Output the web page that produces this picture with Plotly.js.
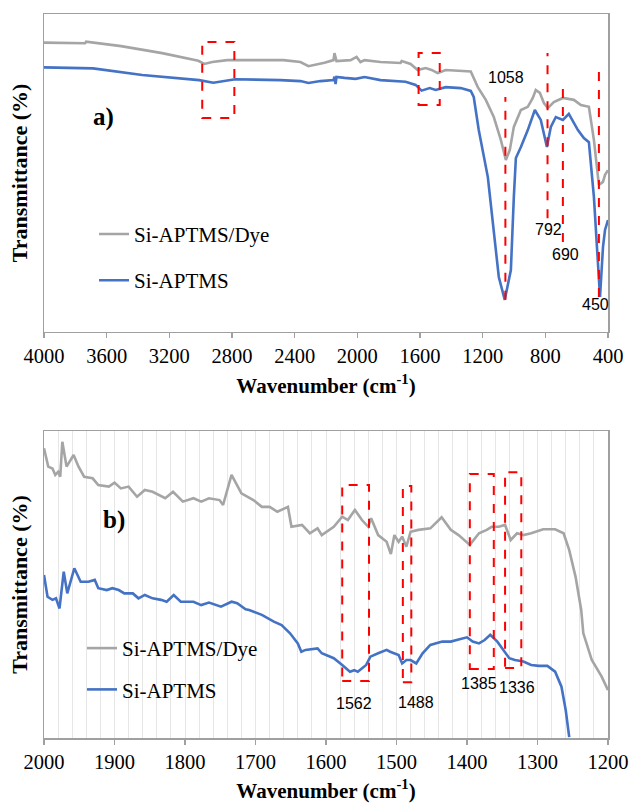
<!DOCTYPE html>
<html>
<head>
<meta charset="utf-8">
<script src="https://cdn.plot.ly/plotly-3.0.1.min.js"></script>
<style>html,body{margin:0;padding:0;background:#fff;}#chart{width:630px;height:803px;}</style>
</head>
<body>
<div id="chart"></div>
<script>
// ---------- Panel a: full range (4000-400 cm-1) ----------
const wnA_dye = [4000,3738,3731,3508,3246,3015,2977,2926,2830,2683,2472,2363,2312,2210,2152,2146,2133,2043,2005,1980,1954,1852,1724,1717,1660,1615,1564,1526,1487,1436,1340,1276,1231,1180,1129,1084,1052,1027,1001,956,912,880,861,835,809,784,746,688,618,573,522,490,458,432,419,400];
const tA_dye  = [91.0,90.8,91.3,89.9,87.7,85.3,84.3,84.9,85.5,85.5,85.5,84.9,83.6,84.7,85.5,87.7,85.2,85.5,86.5,84.9,85.5,84.9,84.6,85.2,84.3,82.4,83.0,82.4,81.4,82.4,82.1,81.9,77.0,73.0,67.6,60.4,54.1,57.2,64.5,69.8,70.8,73.6,76.1,75.2,72.0,70.4,72.3,73.6,73.0,71.4,70.8,60.4,46.2,47.2,49.4,50.9];
const wnA_si  = [4000,3687,3373,3010,2919,2779,2491,2363,2312,2235,2152,2146,2139,2133,2082,2011,1954,1852,1692,1628,1590,1538,1500,1436,1340,1276,1257,1225,1167,1129,1097,1059,1020,1001,988,956,912,867,829,790,765,733,688,650,592,554,522,490,464,451,432,419,400];
const tA_si   = [83.2,82.9,80.8,79.2,78.4,79.5,79.2,78.9,78.3,78.9,79.2,80.3,78.0,80.2,79.9,79.6,80.2,79.2,78.7,77.7,75.9,76.7,76.1,77.0,76.7,75.8,73.9,63.5,48.7,32.1,17.3,10.1,19.5,42.5,54.7,58.2,63.5,69.8,66.7,58.2,64.5,67.6,66.7,68.6,63.5,61.0,59.7,42.5,19.5,11.0,26.7,32.1,35.2];

// ---------- Panel b: zoom (2000-1200 cm-1) ----------
const wnB_dye = [2000,1994,1988,1984,1980,1977,1974,1968,1958,1951,1943,1931,1923,1908,1900,1891,1880,1868,1857,1846,1828,1817,1803,1788,1777,1766,1751,1746,1734,1720,1703,1691,1680,1669,1654,1649,1634,1623,1612,1606,1589,1577,1569,1559,1549,1540,1536,1526,1514,1508,1503,1497,1492,1486,1480,1469,1452,1436,1423,1412,1396,1383,1372,1365,1355,1346,1338,1329,1320,1309,1292,1275,1263,1255,1246,1238,1235,1223,1209,1200];
const tB_dye  = [94.4,88.4,87.8,85.7,86.7,85.1,96.5,88.4,92.2,88.4,85.1,84.6,82.4,81.9,83.2,81.3,81.9,78.6,80.8,80.2,78.1,80.2,77.0,78.1,77.0,78.1,77.5,75.9,85.7,79.7,77.5,75.3,75.3,73.7,75.3,68.8,69.4,66.7,68.3,66.1,68.8,72.1,71.0,74.3,71.0,68.8,71.6,66.1,63.9,59.9,66.1,63.9,65.6,62.3,67.2,67.8,68.3,71.9,67.8,66.1,62.9,66.7,67.8,68.8,68.8,69.4,64.5,66.7,66.1,66.7,68.0,68.0,66.7,61.2,52.5,41.7,34.1,25.4,20.0,15.6];
const wnB_si  = [2000,1995,1988,1983,1978,1972,1967,1957,1948,1937,1928,1923,1911,1903,1894,1886,1874,1866,1857,1846,1834,1826,1816,1806,1788,1777,1766,1749,1734,1726,1714,1709,1691,1674,1663,1651,1640,1635,1629,1612,1606,1589,1577,1566,1560,1555,1543,1537,1526,1514,1509,1497,1492,1486,1480,1472,1463,1452,1435,1423,1412,1400,1392,1383,1375,1367,1357,1349,1340,1332,1320,1309,1298,1286,1275,1266,1260,1255];
const tB_si   = [53.1,46.0,45.0,45.5,42.2,54.2,47.1,55.3,50.9,50.9,51.5,48.8,48.2,48.8,48.2,47.1,47.1,45.5,46.6,45.5,45.0,44.4,46.6,44.4,44.4,43.3,44.1,42.8,44.4,43.9,41.9,41.7,40.1,37.9,36.8,34.1,30.8,28.1,28.7,29.2,27.6,26.0,23.8,21.6,22.1,21.6,23.8,26.5,27.6,28.7,28.1,27.0,24.3,25.4,25.4,24.3,27.6,30.3,31.4,31.4,32.1,32.8,31.4,30.8,31.9,33.6,31.4,28.7,26.0,25.4,24.9,23.8,23.5,23.5,21.6,16.7,9.1,0.3];

const seriesNames = ["Si-APTMS/Dye", "Si-APTMS"];
const seriesColors = ["#A5A5A5", "#4472C4"];
const ticksA = [4000,3600,3200,2800,2400,2000,1600,1200,800,400];
const ticksB = [2000,1900,1800,1700,1600,1500,1400,1300,1200];

const SERIF = "Liberation Serif, Times New Roman, serif";
const NARROW = "Liberation Sans Narrow, Arial Narrow, Liberation Sans, sans-serif";
const FRAME = "#A0A0A0";

function tr(x, y, i, xa, ya, leg) {
  return {x: x, y: y, type: "scatter", mode: "lines", name: seriesNames[i],
    xaxis: xa, yaxis: ya, legend: leg, legendgroup: leg + i,
    line: {color: seriesColors[i], width: 2.6}, hoverinfo: "skip"};
}
const data = [
  tr(wnA_dye, tA_dye, 0, "x", "y", "legend"),
  tr(wnA_si, tA_si, 1, "x", "y", "legend"),
  tr(wnB_dye, tB_dye, 0, "x2", "y2", "legend2"),
  tr(wnB_si, tB_si, 1, "x2", "y2", "legend2")
];

const axTitleFont = {family: SERIF, size: 21, color: "#000", weight: "bold"};
const tickFont = {family: SERIF, size: 20.5, color: "#000"};
function xax(range, ticks, anchor, grid) {
  const a = {range: range, domain: [0, 1], anchor: anchor, tickvals: ticks, ticktext: ticks.map(String),
    ticks: "outside", ticklen: 5, tickcolor: FRAME, tickwidth: 1.5,
    showline: true, linecolor: FRAME, linewidth: 1.5, mirror: true, zeroline: false,
    showgrid: false, tickfont: tickFont,
    title: {text: "Wavenumber (cm<sup>-1</sup>)", font: axTitleFont, standoff: 12}};
  if (grid) {
    a.showgrid = true; a.gridcolor = "#E6E6E6"; a.gridwidth = 1;
    a.minor = {dtick: 20, tick0: 1200, showgrid: true, gridcolor: "#E6E6E6", gridwidth: 1, ticks: ""};
  }
  return a;
}
function yax(domain, anchor) {
  return {range: [0, 100], domain: domain, anchor: anchor, showticklabels: false, ticks: "",
    showgrid: false, zeroline: false, showline: true, linecolor: FRAME, linewidth: 1.5, mirror: true,
    title: {text: "Transmittance (%)", font: Object.assign({}, axTitleFont, {size: 22}), standoff: 9}};
}

const red = {color: "#FF0000", width: 2, dash: "dash"};
function rect(xr, yr, x0, x1, y0, y1) { return {type: "rect", xref: xr, yref: yr, x0: x0, x1: x1, y0: y0, y1: y1, line: red}; }
function vline(xr, yr, x, y0, y1) { return {type: "line", xref: xr, yref: yr, x0: x, x1: x, y0: y0, y1: y1, line: red}; }
const shapes = [
  rect("x", "y", 2990, 2785, 67.3, 91.2),
  rect("x", "y", 1609, 1474, 71.4, 87.7),
  vline("x", "y", 1055, 10.1, 73.9),
  vline("x", "y", 786, 35.8, 87.7),
  vline("x", "y", 688, 28.3, 78.6),
  vline("x", "y", 458, 11.0, 82.4),
  rect("x2", "y2", 1577, 1539, 18.6, 82.4),
  rect("x2", "y2", 1491, 1479, 18.2, 82.1),
  rect("x2", "y2", 1396, 1362, 22.5, 86.0),
  rect("x2", "y2", 1346, 1323, 22.8, 86.6)
];
function lab(xr, yr, x, y, t) { return {xref: xr, yref: yr, x: x, y: y, text: t, showarrow: false, font: {family: NARROW, size: 16, color: "#000"}}; }
const annotations = [
  lab("x", "y", 1052, 79.9, "1058"),
  lab("x", "y", 778, 32.1, "792"),
  lab("x", "y", 669, 24.5, "690"),
  lab("x", "y", 477, 8.5, "450"),
  lab("x2", "y2", 1560, 11.4, "1562"),
  lab("x2", "y2", 1472, 11.7, "1488"),
  lab("x2", "y2", 1383, 17.6, "1385"),
  lab("x2", "y2", 1329, 16.3, "1336"),
  {xref: "x", yref: "y", x: 3623, y: 67.6, text: "a)", showarrow: false, font: {family: SERIF, size: 25, color: "#000", weight: "bold"}},
  {xref: "x2", yref: "y2", x: 1901, y: 71.0, text: "b)", showarrow: false, font: {family: SERIF, size: 25, color: "#000", weight: "bold"}}
];

const legFont = {family: SERIF, size: 21, color: "#000"};
const layout = {
  width: 630, height: 803,
  margin: {l: 44, r: 22, t: 14, b: 65},
  paper_bgcolor: "#fff", plot_bgcolor: "#fff",
  xaxis: xax([4000, 400], ticksA, "y", false),
  yaxis: yax([0.5608, 1], "x"),
  xaxis2: xax([2000, 1200], ticksB, "y2", true),
  yaxis2: yax([0, 0.424], "x2"),
  legend: {x: 0.0887, y: 0.724, xanchor: "left", yanchor: "top", font: legFont, bgcolor: "rgba(0,0,0,0)",
    traceorder: "grouped", tracegroupgap: 16},
  legend2: {x: 0.0674, y: 0.152, xanchor: "left", yanchor: "top", font: legFont, bgcolor: "rgba(0,0,0,0)",
    traceorder: "grouped", tracegroupgap: 11},
  shapes: shapes,
  annotations: annotations,
  showlegend: true
};
Plotly.newPlot("chart", data, layout, {displayModeBar: false, staticPlot: true});
</script>
</body>
</html>
